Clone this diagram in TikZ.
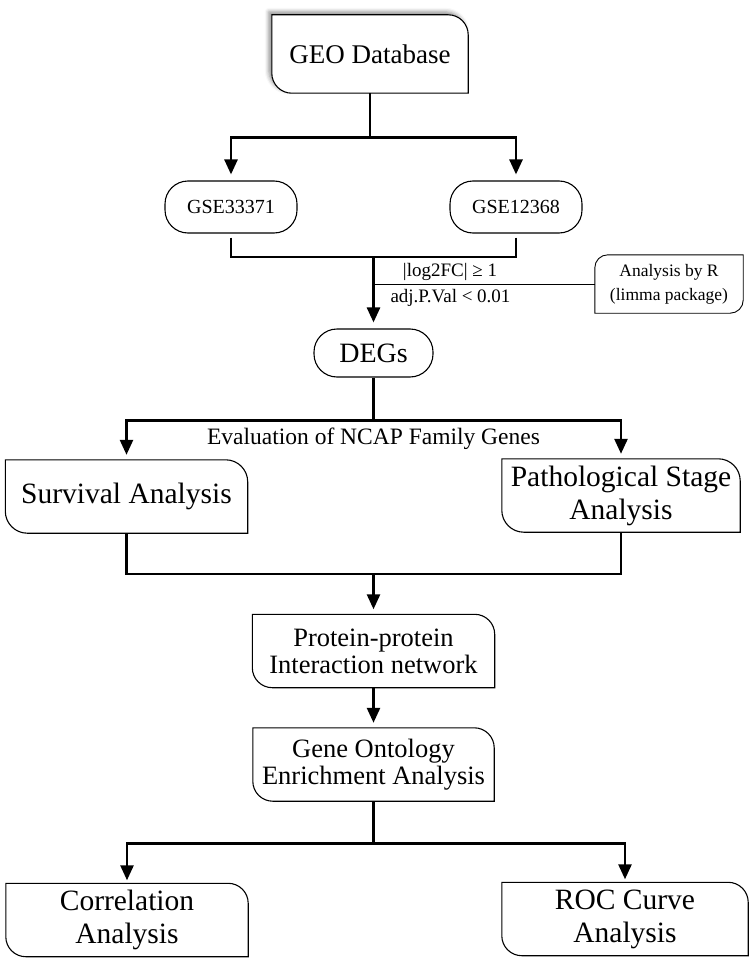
\documentclass[tikz,border=0pt]{standalone}
\usepackage{fontspec}
\setmainfont{Liberation Serif}
\usetikzlibrary{arrows.meta,positioning,calc,shadows.blur,backgrounds}

\newcommand\trblbox[3][]{%
  \draw[outline,#1] (#2.north west) -- ([xshift=-#3]#2.north east)
    arc[start angle=90,end angle=0,radius=#3] -- (#2.south east)
    -- ([xshift=#3]#2.south west) arc[start angle=270,end angle=180,radius=#3] -- cycle;}
\newcommand\tlbrbox[3][]{%
  \draw[outline,#1] ([xshift=#3]#2.north west) -- (#2.north east)
    -- ([yshift=#3]#2.south east) arc[start angle=0,end angle=-90,radius=#3]
    -- (#2.south west) -- ([yshift=-#3]#2.north west)
    arc[start angle=180,end angle=90,radius=#3] -- cycle;}

\tikzset{
  outline/.style={line width=1.1pt},
  pill/.style={draw, line width=1.1pt, rounded corners=23pt, minimum width=132pt,
    minimum height=52pt, inner sep=0pt, font=\fontsize{20}{24}\selectfont},
  stage/.style={align=center, minimum width=242pt, minimum height=73pt, inner sep=0pt,
    font=\fontsize{29.5}{33}\selectfont},
  midstage/.style={stage, font=\fontsize{26.5}{27}\selectfont},
  note/.style={font=\fontsize{19}{22}\selectfont, inner sep=0pt},
  link/.style={line width=2.6pt},
  conn/.style={link, -{Triangle[length=15pt,width=13pt]}},
}

\begin{document}
\begin{tikzpicture}[x=1pt,y=1pt]
\useasboundingbox (0,0) rectangle (751,-963);

\node[minimum width=196pt, minimum height=78pt, inner sep=0pt,
  font=\fontsize{27}{30}\selectfont] (geo) at (370,-54) {GEO Database};
\node[pill] (gse1) at (231,-207) {GSE33371};
\node[pill] (gse2) at (516,-207) {GSE12368};
\node[pill, minimum width=119pt, minimum height=48pt, font=\fontsize{28}{30}\selectfont]
  (degs) at (373.5,-353) {DEGs};
\node[align=center, minimum width=148pt, minimum height=58pt, inner sep=0pt,
  font=\fontsize{17.5}{24}\selectfont] (rtool) at (669,-284)
  {Analysis by R\\(limma package)};
\node[stage] (surv) at (126.5,-496.5) {Survival Analysis};
\node[stage, minimum width=238pt] (patho) at (621,-495.5) {Pathological Stage\\Analysis};
\node[midstage] (ppi) at (373.5,-651) {Protein-protein\\Interaction network};
\node[midstage, minimum width=241pt] (go) at (373.5,-764.5) {Gene Ontology\\Enrichment Analysis};
\node[stage] (corr) at (127,-920) {Correlation\\Analysis};
\node[stage, minimum width=246pt] (roc) at (625,-919) {ROC Curve\\Analysis};

\begin{scope}[on background layer]
  \trblbox[fill=white, blur shadow={shadow xshift=-3pt, shadow yshift=3pt,
    shadow blur radius=4pt, shadow opacity=45}]{geo}{20pt}
\end{scope}
\tlbrbox[line width=0.9pt]{rtool}{13pt}
\trblbox{surv}{22pt}
\trblbox{patho}{22pt}
\trblbox{ppi}{20pt}
\trblbox{go}{20pt}
\trblbox{corr}{20pt}
\trblbox{roc}{20pt}

\coordinate (split1) at ([yshift=-44pt]geo.south);
\draw[conn] (geo.south) -- (split1) -| ([yshift=6pt]gse1.north);
\draw[conn] (split1) -| ([yshift=6pt]gse2.north);

\coordinate (merge1) at (373.5,-257);
\draw[link] ([yshift=-4pt]gse1.south) |- (merge1);
\draw[link] ([yshift=-4pt]gse2.south) |- (merge1);
\draw[conn] (merge1) -- ([yshift=6pt]degs.north);
\draw[line width=0.9pt] (merge1 |- rtool.west) -- (rtool.west);
\node[note] (fc) at (450,-272) {|log2FC| ≥ 1};
\node[note] (pval) at (450.5,-298) {adj.P.Val < 0.01};

\coordinate (split2) at ([yshift=-43pt]degs.south);
\draw[conn] (degs.south) -- (split2) -| ([yshift=5pt]surv.north);
\draw[conn] (split2) -| ([yshift=5pt]patho.north);
\node[font=\fontsize{23.5}{25}\selectfont, inner sep=0pt, below=7pt of split2] (evalnote)
  {Evaluation of NCAP Family Genes};

\coordinate (merge2) at (373.5,-574);
\draw[link] (surv.south) |- (merge2);
\draw[link] (patho.south) |- (merge2);
\draw[conn] (merge2) -- ([yshift=5pt]ppi.north);

\draw[conn] (ppi.south) -- ([yshift=5pt]go.north);

\coordinate (split3) at ([yshift=-42pt]go.south);
\draw[conn] (go.south) -- (split3) -| ([yshift=3pt]corr.north);
\draw[conn] (split3) -| ([yshift=3pt]roc.north);
\end{tikzpicture}
\end{document}
